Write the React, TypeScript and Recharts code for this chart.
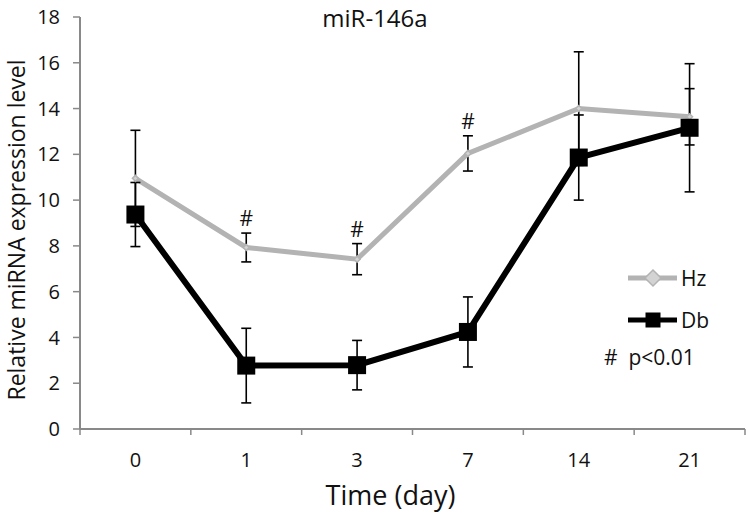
import React from "react";
import { LineChart, Line, XAxis, YAxis, ErrorBar, LabelList, Legend, Label } from "recharts";

const categories = ["0", "1", "3", "7", "14", "21"];
const hzMean = [10.95, 7.93, 7.42, 12.04, 14.0, 13.64];
const hzErr = [2.1, 0.63, 0.68, 0.77, 2.48, 1.23];
const dbMean = [9.37, 2.77, 2.79, 4.24, 11.86, 13.16];
const dbErr = [1.4, 1.63, 1.08, 1.53, 1.86, 2.8];
const hzSignificant = [false, true, true, true, false, false];
const yTicks = [0, 2, 4, 6, 8, 10, 12, 14, 16, 18];

const data = categories.map((day, i) => ({
  x: i,
  day,
  hz: hzMean[i],
  hzErr: hzErr[i],
  db: dbMean[i],
  dbErr: dbErr[i],
  hash: hzSignificant[i] ? hzMean[i] + hzErr[i] + 0.65 : null,
}));

// tick marks sit on category boundaries, labels on category centres
const xTicks = categories.flatMap((_, i) => [i - 0.5, i]).concat([categories.length - 0.5]);

const FONT = "'Open Sans', sans-serif";
const AXIS = "#898989";
const HZ_LINE = "#b3b3b3";
const HZ_FILL = "#d3d3d3";

function XTick({ x, y, payload }: any) {
  const v = payload.value;
  if (!Number.isInteger(v)) {
    return <line x1={x} y1={y} x2={x} y2={y + 6} stroke={AXIS} strokeWidth={1.5} />;
  }
  return (
    <text x={x} y={y + 38} textAnchor="middle" fontSize={20} fontFamily={FONT} fill="#111">
      {categories[v]}
    </text>
  );
}

function Diamond({ cx, cy, r = 8.5 }: any) {
  if (cx == null || cy == null) return null;
  return (
    <polygon
      points={`${cx},${cy - r} ${cx + r},${cy} ${cx},${cy + r} ${cx - r},${cy}`}
      fill={HZ_FILL}
      stroke={HZ_LINE}
      strokeWidth={1.5}
    />
  );
}

function Square({ cx, cy, s = 18 }: any) {
  if (cx == null || cy == null) return null;
  return <rect x={cx - s / 2} y={cy - s / 2} width={s} height={s} fill="#000" />;
}

function HashLabel({ x, y, value }: any) {
  if (value == null) return null;
  return (
    <text x={x} y={y + 8} textAnchor="middle" fontSize={21} fontFamily={FONT} fill="#111">
      #
    </text>
  );
}

function LegendBox() {
  const row = (label: string, color: string, marker: React.ReactNode) => (
    <div style={{ display: "flex", alignItems: "center", height: 42 }}>
      <svg width={53} height={20}>
        <line x1={0} y1={10} x2={49} y2={10} stroke={color} strokeWidth={5} />
        {marker}
      </svg>
      <span style={{ fontSize: 21, fontFamily: FONT, color: "#111" }}>{label}</span>
    </div>
  );
  return (
    <div style={{ lineHeight: 1 }}>
      {row("Hz", HZ_LINE, <Diamond cx={25} cy={10} r={8} />)}
      {row("Db", "#000", <Square cx={25} cy={10} s={15} />)}
      <div style={{ fontSize: 21, fontFamily: FONT, color: "#111", marginLeft: -24, marginTop: 6 }}>
        #&nbsp;&nbsp;p&lt;0.01
      </div>
    </div>
  );
}

export default function App() {
  return (
    <div style={{ position: "absolute", left: 0, top: 0, background: "#fff" }}>
      <LineChart width={748} height={516} data={data} margin={{ top: 17, right: 3, bottom: 0, left: 0 }}>
        <text x={375} y={27} textAnchor="middle" fontSize={24} fontFamily={FONT} fill="#111">
          miR-146a
        </text>
        <XAxis
          dataKey="x"
          type="number"
          domain={[-0.5, categories.length - 0.5]}
          ticks={xTicks}
          interval={0}
          tick={<XTick />}
          tickLine={false}
          tickSize={0}
          tickMargin={0}
          height={87}
          axisLine={{ stroke: AXIS, strokeWidth: 2 }}
        >
          <Label
            content={({ viewBox }: any) => (
              <text
                x={viewBox.x + viewBox.width / 2 - 22}
                y={viewBox.y + 76}
                textAnchor="middle"
                fontSize={27}
                fontFamily={FONT}
                fill="#111"
              >
                Time (day)
              </text>
            )}
          />
        </XAxis>
        <YAxis
          domain={[0, 18]}
          ticks={yTicks}
          interval={0}
          width={80}
          tickSize={7}
          tickMargin={13}
          tick={{ fontSize: 20, fontFamily: FONT, fill: "#111" }}
          tickLine={{ stroke: AXIS, strokeWidth: 1.5 }}
          axisLine={{ stroke: AXIS, strokeWidth: 2 }}
        >
          <Label
            content={({ viewBox }: any) => {
              const cx = viewBox.x + 16;
              const cy = viewBox.y + viewBox.height / 2 + 7;
              return (
                <text
                  x={cx}
                  y={cy}
                  transform={`rotate(-90 ${cx} ${cy})`}
                  textAnchor="middle"
                  dominantBaseline="central"
                  fontSize={23}
                  fontFamily={FONT}
                  fill="#111"
                >
                  Relative miRNA expression level
                </text>
              );
            }}
          />
        </YAxis>
        <Legend
          layout="vertical"
          align="center"
          verticalAlign="middle"
          content={<LegendBox />}
          wrapperStyle={{ position: "absolute", left: 628, top: 257, width: "auto" }}
        />
        <Line
          dataKey="hz"
          stroke={HZ_LINE}
          strokeWidth={5}
          dot={<Diamond />}
          activeDot={false}
          isAnimationActive={false}
        >
          <ErrorBar dataKey="hzErr" direction="y" width={5} stroke="#000" strokeWidth={1.6} />
        </Line>
        <Line
          dataKey="db"
          stroke="#000"
          strokeWidth={6}
          dot={<Square />}
          activeDot={false}
          isAnimationActive={false}
        >
          <ErrorBar dataKey="dbErr" direction="y" width={5} stroke="#000" strokeWidth={1.6} />
        </Line>
        <Line
          dataKey="hash"
          stroke="none"
          dot={false}
          activeDot={false}
          legendType="none"
          isAnimationActive={false}
        >
          <LabelList dataKey="hash" content={<HashLabel />} />
        </Line>
      </LineChart>
    </div>
  );
}
